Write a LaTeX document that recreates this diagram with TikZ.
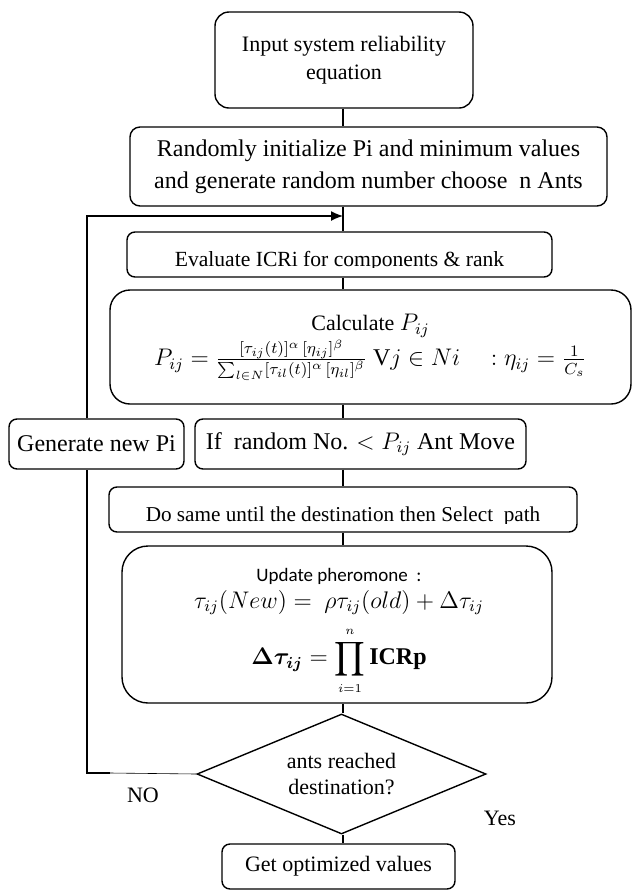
\documentclass[tikz,border=0pt]{standalone}
\usepackage{fontspec}
\setmainfont{Liberation Serif}
\newfontfamily\calibrifont{Carlito}
\usepackage{amsmath}
\usepackage{amssymb}
\usepackage{bm}
\usetikzlibrary{shapes.geometric,arrows.meta}

\begin{document}
\begin{tikzpicture}[x=0.5pt,y=-0.5pt,
		box/.style={draw=black,line width=0.7pt,rounded corners=#1,inner sep=0pt,align=center},
		box/.default=4pt,
		flow/.style={draw=black,line width=0.7pt},
		loop/.style={flow,-{Latex[length=6pt,width=5pt]}}]
		\useasboundingbox (0,0) rectangle (632,891);
		
		\coordinate (spine) at (343,0);
		
		\node[box=7pt,minimum width=129pt,minimum height=48pt,font=\fontsize{11}{14}\selectfont] (input) at (344,60){\begin{tabular}{c}Input system reliability\\equation\end{tabular}};
		
		\node[box=5pt,minimum width=238.5pt,minimum height=39.5pt,font=\fontsize{12}{16}\selectfont] (init) at (368.5,166.5){\begin{tabular}{c}Randomly initialize Pi and minimum values\\and generate random number choose~ n Ants\end{tabular}};
		
		\node[box,minimum width=212.5pt,minimum height=22.5pt] (eval) at (339.5,254.5){};
		\begin{scope}
			\clip (127,232) rectangle (552,267);
			\node[anchor=base,inner sep=0pt,font=\fontsize{10.8}{13}\selectfont] (evaltext) at (339.5,266){Evaluate ICRi for components \& rank};
		\end{scope}
		
		\node[box=10pt,minimum width=260.5pt,minimum height=57pt] (calc) at (370.5,347){\begin{tabular}{c}\fontsize{11}{14}\selectfont Calculate {\large$P_{ij}$}\\[1pt]\large$P_{ij}=\frac{[\tau_{ij}(t)]^{\alpha}\,[\eta_{ij}]^{\beta}}{\sum_{l\in N}[\tau_{il}(t)]^{\alpha}\,[\eta_{il}]^{\beta}}\ \mathrm{V}j\in Ni\quad:\eta_{ij}=\frac{1}{C_{s}}$\end{tabular}};
		
		\node[box,minimum width=87.5pt,minimum height=25pt,font=\fontsize{12}{14}\selectfont] (gen) at (96.5,444){Generate new Pi};
		
		\node[box,minimum width=165.5pt,minimum height=25pt,font=\fontsize{12}{14}\selectfont] (move) at (360.5,444){If~ random No. $<P_{ij}$ Ant Move};
		
		\node[box,minimum width=234pt,minimum height=22.5pt] (dosame) at (343,509.5){};
		\begin{scope}
			\clip (109,487) rectangle (577,523);
			\node[anchor=base,inner sep=0pt,font=\fontsize{10.6}{13}\selectfont] (dosametext) at (343,521){Do same until the destination then Select~ path};
		\end{scope}
		
		\node[box=13pt,minimum width=215pt,minimum height=78.5pt] (update) at (337,624.5){};
		\node[anchor=base,inner sep=0pt] (updatetext) at (339,581){\begin{tabular}[t]{c}{\calibrifont\fontsize{9.5}{11}\selectfont Update pheromone~ :}\\[1pt]\fontsize{11.5}{14}\selectfont$\tau_{ij}(New)=\ \rho\tau_{ij}(old)+\Delta\tau_{ij}$\\[6pt]{\large$\bm{\Delta\tau_{ij}}=\displaystyle\prod_{\scriptscriptstyle i=1}^{\scriptscriptstyle n}\mathbf{ICRp}$}\end{tabular}};
		
		\node[draw=black,line width=0.7pt,diamond,aspect=2.4,inner sep=0pt,minimum width=144.5pt,minimum height=60pt,align=center,font=\fontsize{11}{13}\selectfont] (reached) at (341.5,774){ants reached\\destination?};
		
		\node[box,minimum width=116.5pt,minimum height=22.5pt,font=\fontsize{11}{14}\selectfont] (get) at (338.5,866.5){Get optimized values};
		
		\node[font=\fontsize{11}{13}\selectfont] (nolabel) at (143,795){NO};
		\node[font=\fontsize{11}{13}\selectfont] (yeslabel) at (500,818){Yes};
		
		% main chain
		\draw[flow] (input.south -| spine) -- (init.north -| spine);
		\draw[flow] (init.south -| spine) -- (eval.north -| spine);
		\draw[flow] (eval.south -| spine) -- (calc.north -| spine);
		\draw[flow] (calc.south -| spine) -- (move.north -| spine);
		\draw[flow] (move.south -| spine) -- (dosame.north -| spine);
		\draw[flow] (dosame.south -| spine) -- (update.north -| spine);
		\draw[flow] (update.south -| spine) -- (reached.north -| spine);
		\draw[flow] (reached.south -| spine) -- (get.north -| spine);
		
		% NO branch back to the top
		\coordinate (nobreak) at (110,773);
		\coordinate (nocorner) at (87,773);
		\coordinate (loopin) at (343,216);
		\draw[draw=black,line width=0.3pt] (reached.west) -- (nobreak);
		\draw[flow] (nobreak) -- (nocorner) -- (gen.south -| nocorner);
		\draw[loop] (gen.north -| nocorner) |- (loopin);
	\end{tikzpicture}
\end{document}
